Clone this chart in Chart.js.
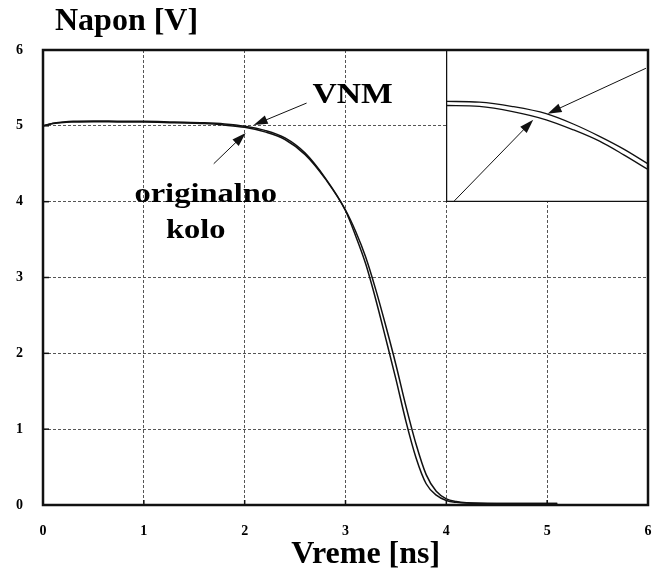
<!DOCTYPE html>
<html>
<head>
<meta charset="utf-8">
<script src="https://cdn.jsdelivr.net/npm/chart.js@4.4.1/dist/chart.umd.min.js"></script>
<style>
  html, body { margin: 0; padding: 0; background: #fff; }
  #wrap { position: relative; width: 663px; height: 573px; }
  #inset { position: absolute; background: #fff; }
</style>
</head>
<body>
<div id="wrap">
  <canvas id="mainChart" width="663" height="573"></canvas>
  <div id="inset"><canvas id="insetChart"></canvas></div>
</div>
<script>
// Time axis [ns]
var times = [0, 0.1, 0.2, 0.3, 0.5, 0.8, 1.0, 1.3, 1.6, 1.8, 2.0, 2.2, 2.4, 2.6, 2.8, 3.0,
             3.1, 3.2, 3.3, 3.4, 3.5, 3.6, 3.7, 3.8, 3.9, 4.0, 4.1, 4.2, 4.5, 5.1];
// Voltage [V]
var vnm = [5.00, 5.035, 5.05, 5.06, 5.065, 5.06, 5.06, 5.05, 5.04, 5.025, 4.995, 4.94, 4.84, 4.64, 4.31, 3.89,
           3.61, 3.27, 2.84, 2.36, 1.85, 1.30, 0.80, 0.40, 0.18, 0.08, 0.045, 0.03, 0.02, 0.02];
var original = [5.00, 5.03, 5.045, 5.05, 5.055, 5.05, 5.05, 5.04, 5.03, 5.01, 4.98, 4.92, 4.82, 4.62, 4.30, 3.88,
                3.55, 3.18, 2.71, 2.19, 1.66, 1.10, 0.62, 0.28, 0.13, 0.06, 0.035, 0.025, 0.02, 0.02];
var xTicks = [0, 1, 2, 3, 4, 5, 6];
var yTicks = [0, 1, 2, 3, 4, 5, 6];

// Zoomed detail (inset), relative units 0..1
var insetX = [0, 0.165, 0.33, 0.496, 0.63, 0.76, 0.88, 1.0];
var insetVnm = [0.662, 0.657, 0.628, 0.581, 0.513, 0.432, 0.348, 0.251];
var insetOriginal = [0.635, 0.629, 0.595, 0.541, 0.475, 0.400, 0.310, 0.214];
// inset placement in main chart units [x0, x1], [y0, y1]
var insetBoxX = [4, 6];
var insetBoxY = [4, 6];

// annotation arrows: [fromX, fromY, toX, toY]
var mainArrows = [[2.614, 5.30, 2.089, 5.01], [1.693, 4.50, 2.01, 4.906]];
var insetArrows = [[0.99, 0.88, 0.503, 0.581], [0.041, 0.007, 0.432, 0.541]];

var serif = '"Liberation Serif", "Times New Roman", serif';

function toPoints(xs, ys) {
    return xs.map(function(x, i) { return {x: x, y: ys[i]}; });
}

function drawArrow(ctx, x1, y1, x2, y2) {
    var ang = Math.atan2(y2 - y1, x2 - x1);
    var len = 14, half = 4.5;
    ctx.beginPath();
    ctx.moveTo(x1, y1);
    ctx.lineTo(x2 - Math.cos(ang) * len * 0.8, y2 - Math.sin(ang) * len * 0.8);
    ctx.lineWidth = 1;
    ctx.stroke();
    ctx.beginPath();
    ctx.moveTo(x2, y2);
    ctx.lineTo(x2 - Math.cos(ang) * len - Math.sin(ang) * half, y2 - Math.sin(ang) * len + Math.cos(ang) * half);
    ctx.lineTo(x2 - Math.cos(ang) * len + Math.sin(ang) * half, y2 - Math.sin(ang) * len - Math.cos(ang) * half);
    ctx.closePath();
    ctx.fill();
}

// text a bit wider than the plain font, like the original figure
function wideText(ctx, txt, x, y, stretch) {
    ctx.save();
    ctx.translate(x, y);
    ctx.scale(stretch, 1);
    ctx.fillText(txt, 0, 0);
    ctx.restore();
}

var mainDecor = {
    id: 'mainDecor',
    afterDraw: function(chart) {
        var ctx = chart.ctx, a = chart.chartArea;
        var xs = chart.scales.x, ys = chart.scales.y;
        ctx.save();
        ctx.strokeStyle = '#111';
        ctx.fillStyle = '#111';
        // small tick marks inside the axes
        ctx.lineWidth = 1.5;
        xTicks.forEach(function(t) {
            var px = xs.getPixelForValue(t);
            ctx.beginPath();
            ctx.moveTo(px, a.bottom);
            ctx.lineTo(px, a.bottom - 5);
            ctx.stroke();
        });
        yTicks.forEach(function(t) {
            var py = ys.getPixelForValue(t);
            ctx.beginPath();
            ctx.moveTo(a.left, py);
            ctx.lineTo(a.left + 6, py);
            ctx.stroke();
        });
        // frame
        ctx.lineWidth = 2.5;
        ctx.strokeRect(a.left, a.top, a.right - a.left, a.bottom - a.top);
        mainArrows.forEach(function(ar) {
            drawArrow(ctx, xs.getPixelForValue(ar[0]), ys.getPixelForValue(ar[1]),
                      xs.getPixelForValue(ar[2]), ys.getPixelForValue(ar[3]));
        });
        ctx.fillStyle = '#000';
        ctx.textBaseline = 'alphabetic';
        ctx.textAlign = 'left';
        ctx.font = 'bold 30px ' + serif;
        wideText(ctx, 'VNM', xs.getPixelForValue(2.673), ys.getPixelForValue(5.30), 1.12);
        ctx.textAlign = 'center';
        ctx.font = 'bold 28px ' + serif;
        wideText(ctx, 'originalno', xs.getPixelForValue(1.614), ys.getPixelForValue(3.996), 1.16);
        wideText(ctx, 'kolo', xs.getPixelForValue(1.515), ys.getPixelForValue(3.521), 1.16);
        ctx.textBaseline = 'middle';
        ctx.font = 'bold 32px ' + serif;
        ctx.fillText('Vreme [ns]', xs.getPixelForValue(3.2), a.bottom + 50);
        ctx.textAlign = 'left';
        ctx.font = 'bold 32px ' + serif;
        ctx.fillText('Napon [V]', a.left + 12, a.top - 28);
        ctx.restore();
    }
};

var mainChart = new Chart(document.getElementById('mainChart'), {
    type: 'line',
    data: {
        datasets: [{
            label: 'VNM',
            data: toPoints(times, vnm),
            borderColor: '#111',
            borderWidth: 1.5,
            pointRadius: 0,
            cubicInterpolationMode: 'monotone'
        }, {
            label: 'originalno kolo',
            data: toPoints(times, original),
            borderColor: '#111',
            borderWidth: 1.5,
            pointRadius: 0,
            cubicInterpolationMode: 'monotone'
        }]
    },
    options: {
        responsive: false,
        animation: false,
        layout: { padding: { top: 50, right: 15, left: 0, bottom: 0 } },
        plugins: { legend: { display: false }, tooltip: { enabled: false } },
        scales: {
            x: {
                type: 'linear', min: 0, max: 6,
                afterBuildTicks: function(s) { s.ticks = xTicks.map(function(v) { return {value: v}; }); },
                afterFit: function(s) { s.height = 68; s.paddingLeft = 0; s.paddingRight = 0; },
                grid: { color: '#555', lineWidth: 1, drawTicks: false },
                border: { display: false, dash: [3, 2] },
                ticks: { padding: 18, color: '#000', font: { family: serif, size: 14, weight: 'bold' } }
            },
            y: {
                type: 'linear', min: 0, max: 6,
                afterBuildTicks: function(s) { s.ticks = yTicks.map(function(v) { return {value: v}; }); },
                afterFit: function(s) { s.width = 43; s.paddingTop = 0; s.paddingBottom = 0; },
                grid: { color: '#555', lineWidth: 1, drawTicks: false },
                border: { display: false, dash: [3, 2] },
                ticks: { padding: 20, color: '#000', font: { family: serif, size: 14, weight: 'bold' } }
            }
        }
    },
    plugins: [mainDecor]
});

// place the inset over the main chart's x 4..6, y 4..6 area
var sx = mainChart.scales.x, sy = mainChart.scales.y;
var boxLeft = sx.getPixelForValue(insetBoxX[0]), boxRight = sx.getPixelForValue(insetBoxX[1]);
var boxTop = sy.getPixelForValue(insetBoxY[1]), boxBottom = sy.getPixelForValue(insetBoxY[0]);
var insetW = Math.round(boxRight - boxLeft), insetH = Math.round(boxBottom - boxTop);
var insetDiv = document.getElementById('inset');
insetDiv.style.left = Math.round(boxLeft) + 'px';
insetDiv.style.top = Math.round(boxTop) + 'px';
insetDiv.style.width = insetW + 'px';
insetDiv.style.height = insetH + 'px';
var insetCanvas = document.getElementById('insetChart');
insetCanvas.width = insetW;
insetCanvas.height = insetH;

var insetDecor = {
    id: 'insetDecor',
    afterDraw: function(chart) {
        var ctx = chart.ctx;
        var xs = chart.scales.x, ys = chart.scales.y;
        ctx.save();
        ctx.strokeStyle = '#111';
        ctx.fillStyle = '#111';
        insetArrows.forEach(function(ar) {
            drawArrow(ctx, xs.getPixelForValue(ar[0]), ys.getPixelForValue(ar[1]),
                      xs.getPixelForValue(ar[2]), ys.getPixelForValue(ar[3]));
        });
        ctx.lineWidth = 2.5;
        ctx.strokeRect(0, 0, chart.width, chart.height);
        ctx.restore();
    }
};

new Chart(insetCanvas, {
    type: 'line',
    data: {
        datasets: [{
            data: toPoints(insetX, insetVnm),
            borderColor: '#111', borderWidth: 1.3, pointRadius: 0,
            cubicInterpolationMode: 'monotone'
        }, {
            data: toPoints(insetX, insetOriginal),
            borderColor: '#111', borderWidth: 1.3, pointRadius: 0,
            cubicInterpolationMode: 'monotone'
        }]
    },
    options: {
        responsive: false,
        animation: false,
        layout: { padding: 0 },
        plugins: { legend: { display: false }, tooltip: { enabled: false } },
        scales: {
            x: { type: 'linear', min: 0, max: 1, display: false },
            y: { type: 'linear', min: 0, max: 1, display: false }
        }
    },
    plugins: [insetDecor]
});
</script>
</body>
</html>
